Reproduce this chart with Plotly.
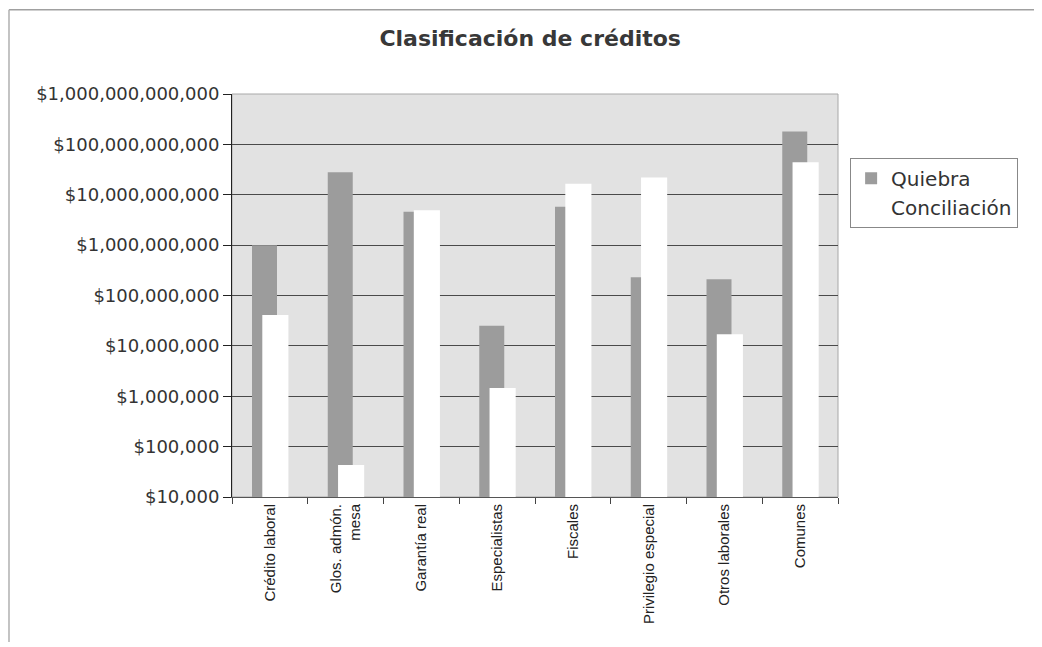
import plotly.graph_objects as go

########################################################
# Data (log scale, pesos)
########################################################

categories = [
    "Crédito laboral",
    "Glos. admón.<br>mesa",
    "Garantía real",
    "Especialistas",
    "Fiscales",
    "Privilegio especial",
    "Otros laborales",
    "Comunes",
]

quiebra = [1.0e9, 2.8e10, 4.6e9, 2.5e7, 5.8e9, 2.3e8, 2.1e8, 1.8e11]
conciliacion = [4.1e7, 4.3e4, 4.9e9, 1.46e6, 1.66e10, 2.2e10, 1.7e7, 4.4e10]

tick_vals = [1e4, 1e5, 1e6, 1e7, 1e8, 1e9, 1e10, 1e11, 1e12]
tick_text = [
    "$10,000",
    "$100,000",
    "$1,000,000",
    "$10,000,000",
    "$100,000,000",
    "$1,000,000,000",
    "$10,000,000,000",
    "$100,000,000,000",
    "$1,000,000,000,000",
]

########################################################
# Figure
########################################################

fig = go.Figure()

# Quiebra bars sit behind, Conciliación overlaps them (Excel style overlap)
fig.add_trace(go.Bar(
    x=categories, y=quiebra, name="Quiebra",
    marker=dict(color="#9c9c9c", line=dict(width=0)),
    width=0.33, offset=-0.236,
))
fig.add_trace(go.Bar(
    x=categories, y=conciliacion, name="Conciliación",
    marker=dict(color="#ffffff", line=dict(width=0)),
    width=0.345, offset=-0.10,
))

# page body has an 8px margin, so the figure is a bit smaller and shifted
fig.update_layout(
    width=1034, height=639,
    margin=dict(l=224, r=204, t=86, b=150),
    barmode="overlay",
    paper_bgcolor="white",
    plot_bgcolor="#e2e2e2",
    title=dict(
        text="<b>Clasificación de créditos</b>",
        x=0.505, xanchor="center", y=0.953, yanchor="middle",
        font=dict(family="DejaVu Sans", size=22, color="#383838"),
    ),
    legend=dict(
        x=1.02, xanchor="left", y=0.842, yanchor="top",
        bgcolor="white", bordercolor="#888888", borderwidth=1,
        font=dict(family="DejaVu Sans", size=20, color="#333333"),
        traceorder="normal",
    ),
    showlegend=True,
)

fig.update_yaxes(
    type="log", range=[4, 12],
    tickvals=tick_vals, ticktext=tick_text,
    tickfont=dict(family="DejaVu Sans", size=18, color="#333333"),
    showgrid=True, gridcolor="#4a4a4a", gridwidth=1,
    ticks="outside", ticklen=8, tickcolor="#222222",
    showline=True, linecolor="#222222", linewidth=1,
    zeroline=False,
)

fig.update_xaxes(
    type="category",
    tickangle=-90,
    tickfont=dict(family="Liberation Sans", size=15, color="#222222"),
    tickson="boundaries", ticks="outside", ticklen=6, tickcolor="#444444",
    showline=True, linecolor="#555555", linewidth=1,
    showgrid=False,
)

# faint plot area border on top/right and the outer chart frame (top/left)
fig.add_shape(type="rect", xref="paper", yref="paper", x0=0, y0=0, x1=1, y1=1,
              line=dict(color="#a8a8a8", width=1), layer="below")
fig.add_shape(type="line", xref="paper", yref="paper",
              x0=-0.368, y0=1.209, x1=1.34, y1=1.209,
              line=dict(color="#a0a0a0", width=1.5))
fig.add_shape(type="line", xref="paper", yref="paper",
              x0=-0.368, y0=1.209, x1=-0.368, y1=-0.36,
              line=dict(color="#b0b0b0", width=1.5))

fig.write_html("out.html")
